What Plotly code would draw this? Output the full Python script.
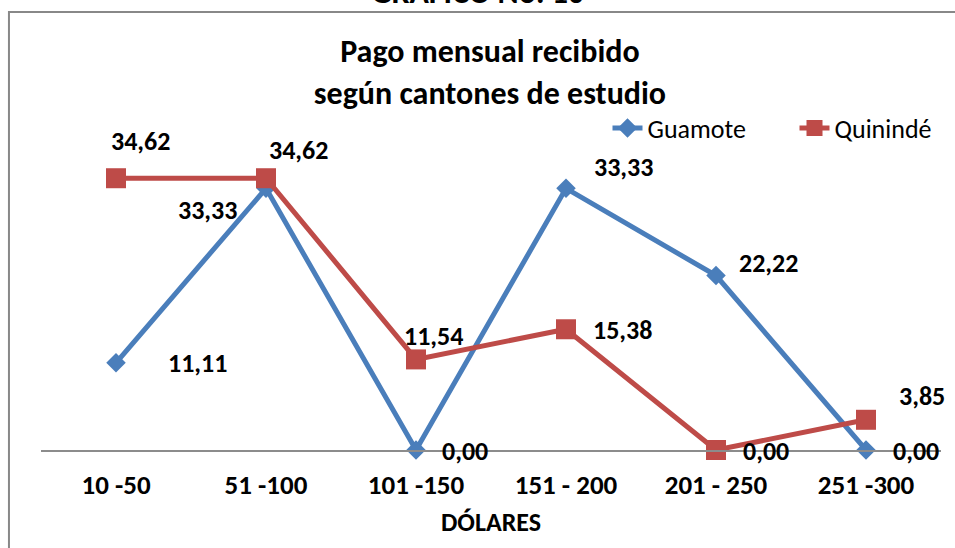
import plotly.graph_objects as go

categories = ["10 -50", "51 -100", "101 -150", "151 - 200", "201 - 250", "251 -300"]
guamote = [11.11, 33.33, 0.00, 33.33, 22.22, 0.00]
quininde = [34.62, 34.62, 11.54, 15.38, 0.00, 3.85]

FONT = "Carlito, 'Liberation Sans Narrow', 'Arial Narrow', 'Liberation Sans', sans-serif"
BLUE = "#4A7EBB"
RED = "#BE4B48"

# label offsets (pixels) relative to each point
g_off = [(81, 0), (-59, -22), (49, -1), (57, 21), (52, 13), (50, -1)]
q_off = [(24, 37), (32, 28), (17, 23), (56, -1), (50, -1), (56, 24)]

def fmt(v):
    return f"{v:.2f}".replace(".", ",")

fig = go.Figure()
fig.add_trace(go.Scatter(x=categories, y=guamote, name="Guamote", mode="lines+markers",
                         line=dict(color=BLUE, width=5),
                         marker=dict(symbol="diamond", size=15, color=BLUE),
                         cliponaxis=False))
fig.add_trace(go.Scatter(x=categories, y=quininde, name="Quinindé", mode="lines+markers",
                         line=dict(color=RED, width=5),
                         marker=dict(symbol="square", size=20, color=RED),
                         cliponaxis=False))

annotations = []
for vals, offs in ((guamote, g_off), (quininde, q_off)):
    for c, v, (dx, dy) in zip(categories, vals, offs):
        annotations.append(dict(x=c, y=v, xref="x", yref="y", text=fmt(v), showarrow=False,
                                xshift=dx, yshift=dy,
                                font=dict(family=FONT, size=26, color="black", weight="bold")))

annotations.append(dict(x=0.485, y=1.458, xref="paper", yref="paper", text="GRÁFICO No. 10",
                        showarrow=False, yanchor="middle",
                        font=dict(family=FONT, size=32, color="black", weight="bold")))

fig.update_layout(
    width=955, height=548,
    margin=dict(l=41, r=14, t=136, b=98, autoexpand=False),
    paper_bgcolor="white", plot_bgcolor="white",
    font=dict(family=FONT, color="black"),
    title=dict(text="Pago mensual recibido<br>según cantones de estudio",
               x=0.513, xanchor="center", y=0.886, yanchor="middle",
               font=dict(family=FONT, size=32, color="black", weight="bold")),
    showlegend=True,
    legend=dict(orientation="h", x=1.045, xanchor="right", y=1.025, yanchor="middle",
                font=dict(family=FONT, size=26, color="black"),
                entrywidth=142, entrywidthmode="pixels",
                bgcolor="rgba(0,0,0,0)", tracegroupgap=0),
    xaxis=dict(type="category", range=[-0.5, 5.5], showgrid=False, zeroline=False,
               showline=True, linecolor="#8C8C8C", linewidth=2, ticks="",
               ticklabelstandoff=10,
               tickfont=dict(family=FONT, size=27, color="black", weight="bold"),
               title=dict(text="DÓLARES", standoff=12,
                          font=dict(family=FONT, size=26, color="black", weight="bold"))),
    yaxis=dict(range=[0, 40], visible=False, showgrid=False, zeroline=False),
    annotations=annotations,
    shapes=[dict(type="rect", xref="paper", yref="paper", x0=-0.0356, x1=1.1, y0=-0.5, y1=1.395,
                 line=dict(color="#888888", width=2), fillcolor="rgba(0,0,0,0)", layer="below")],
)

fig.write_html("out.html", config={"displayModeBar": False},
               post_script="document.body.style.margin='0';document.body.style.padding='0';")
